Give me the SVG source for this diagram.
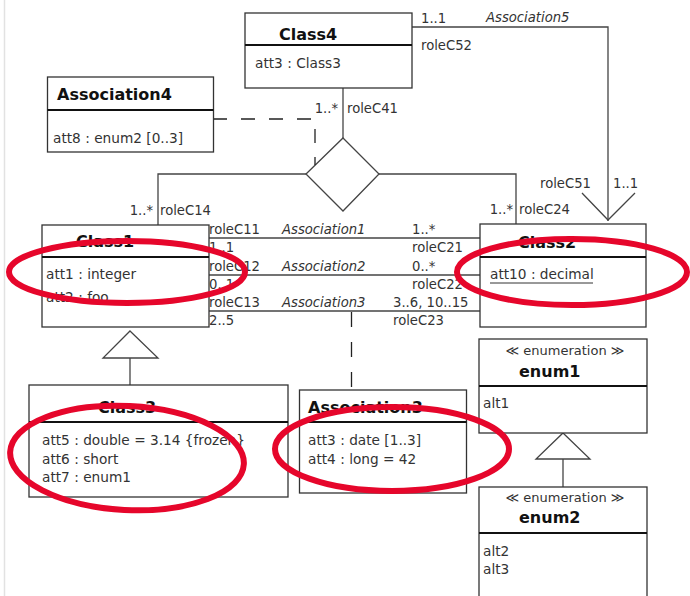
<svg xmlns="http://www.w3.org/2000/svg" width="690" height="596" viewBox="0 0 690 596">
  <style>
    .box { fill: #fff; stroke: #333; stroke-width: 1.3; }
    .div { stroke: #111; stroke-width: 2; }
    .ln { fill: none; stroke: #444; stroke-width: 1.3; }
    .dash { fill: none; stroke: #222; stroke-width: 1.3; stroke-dasharray: 14 14; }
    .hd { font-family: "DejaVu Sans", sans-serif; font-weight: bold; font-size: 16px; fill: #111; }
    .at { font-family: "DejaVu Sans", sans-serif; font-size: 13.7px; fill: #333; }
    .lb { font-family: "DejaVu Sans", sans-serif; font-size: 13.2px; fill: #333; }
    .it { font-style: italic; }
    .st { font-family: "DejaVu Sans", sans-serif; font-size: 13px; fill: #333; }
    .mark { fill: none; stroke: #e6062b; stroke-width: 6; }
  </style>

  <!-- page edge -->
  <line x1="4.5" y1="0" x2="4.5" y2="596" stroke="#e2e2e2" stroke-width="1.5"/>

  <g id="connectors">
    <!-- Association5: Class4 to Class2 with open arrow -->
    <polyline class="ln" points="412,27 608,27 608,221"/>
    <polyline class="ln" points="582,193 608,220 635,193"/>
    <!-- Association4: n-ary diamond -->
    <line class="ln" x1="343" y1="88" x2="343" y2="138"/>
    <polyline class="ln" points="306,174 158,174 158,226"/>
    <polyline class="ln" points="379,174 516,174 516,224"/>
    <polygon class="ln" points="343,138 379,174 343,211 306,174" fill="#fff"/>
    <polyline class="dash" points="213,119 315,119 315,165"/>
    <!-- Associations 1..3 between Class1 and Class2 -->
    <line class="ln" x1="209" y1="238" x2="480" y2="238"/>
    <line class="ln" x1="209" y1="275" x2="480" y2="275"/>
    <line class="ln" x1="209" y1="311" x2="480" y2="311"/>
    <line class="dash" x1="351.5" y1="312" x2="351.5" y2="390" style="stroke-dasharray: 15 15"/>
    <!-- generalisations -->
    <polygon class="ln" points="130,331 158,358 103,358" fill="#fff"/>
    <line class="ln" x1="130" y1="358" x2="130" y2="385"/>
    <polygon class="ln" points="563,433 590,459 536,459" fill="#fff"/>
    <line class="ln" x1="563" y1="459" x2="563" y2="487"/>

    <!-- role and multiplicity labels -->
    <text class="lb" x="421" y="23">1..1</text>
    <text class="lb it" x="486" y="22">Association5</text>
    <text class="lb" x="421" y="50">roleC52</text>
    <text class="lb" x="338" y="113" text-anchor="end">1..*</text>
    <text class="lb" x="347" y="113">roleC41</text>
    <text class="lb" x="153" y="215" text-anchor="end">1..*</text>
    <text class="lb" x="160" y="215">roleC14</text>
    <text class="lb" x="513" y="214" text-anchor="end">1..*</text>
    <text class="lb" x="519" y="214">roleC24</text>
    <text class="lb" x="540" y="188">roleC51</text>
    <text class="lb" x="613" y="188">1..1</text>

    <text class="lb" x="209" y="234">roleC11</text>
    <text class="lb it" x="282" y="234">Association1</text>
    <text class="lb" x="412" y="234">1..*</text>
    <text class="lb" x="209" y="252">1..1</text>
    <text class="lb" x="412" y="252">roleC21</text>
    <text class="lb" x="209" y="271">roleC12</text>
    <text class="lb it" x="282" y="271">Association2</text>
    <text class="lb" x="412" y="271">0..*</text>
    <text class="lb" x="209" y="289">0..1</text>
    <text class="lb" x="412" y="289">roleC22</text>
    <text class="lb" x="209" y="307">roleC13</text>
    <text class="lb it" x="282" y="307">Association3</text>
    <text class="lb" x="393" y="307">3..6, 10..15</text>
    <text class="lb" x="209" y="325">2..5</text>
    <text class="lb" x="393" y="325">roleC23</text>
  </g>

  <g id="Class4">
    <rect class="box" x="245" y="13" width="167" height="75"/>
    <line class="div" x1="245" y1="45" x2="412" y2="45"/>
    <text class="hd" x="279" y="40">Class4</text>
    <text class="at" x="255" y="68">att3 : Class3</text>
  </g>

  <g id="Association4">
    <rect class="box" x="47.5" y="77" width="166" height="75"/>
    <line class="div" x1="47.5" y1="110" x2="213.5" y2="110"/>
    <text class="hd" x="57" y="100">Association4</text>
    <text class="at" x="53" y="143">att8 : enum2 [0..3]</text>
  </g>

  <g id="Class1">
    <rect class="box" x="42" y="225" width="167" height="102"/>
    <line class="div" x1="42" y1="257" x2="209" y2="257"/>
    <text class="hd" x="76" y="247">Class1</text>
    <text class="at" x="46" y="279">att1 : integer</text>
    <text class="at" x="46" y="302">att2 : foo</text>
  </g>

  <g id="Class2">
    <rect class="box" x="480" y="224" width="166" height="103"/>
    <line class="div" x1="480" y1="257" x2="646" y2="257"/>
    <text class="hd" x="518" y="248">Class2</text>
    <text class="at" x="490" y="279">att10 : decimal</text>
    <line x1="490" y1="283" x2="593" y2="283" stroke="#333" stroke-width="1"/>
  </g>

  <g id="Class3">
    <rect class="box" x="29" y="385" width="259" height="112"/>
    <line class="div" x1="29" y1="422" x2="288" y2="422"/>
    <text class="hd" x="98" y="413">Class3</text>
    <text class="at" x="42" y="445">att5 : double = 3.14 {frozen}</text>
    <text class="at" x="42" y="464">att6 : short</text>
    <text class="at" x="42" y="482">att7 : enum1</text>
  </g>

  <g id="Association3">
    <rect class="box" x="299.5" y="390" width="167" height="103"/>
    <line class="div" x1="299.5" y1="422" x2="466.5" y2="422"/>
    <text class="hd" x="308" y="413">Association3</text>
    <text class="at" x="308" y="445">att3 : date [1..3]</text>
    <text class="at" x="308" y="464">att4 : long = 42</text>
  </g>

  <g id="enum1">
    <rect class="box" x="479" y="339" width="168" height="94"/>
    <line class="div" x1="479" y1="386" x2="647" y2="386"/>
    <text class="st" x="565" y="355" text-anchor="middle">≪ enumeration ≫</text>
    <text class="hd" x="519" y="377">enum1</text>
    <text class="at" x="483" y="408">alt1</text>
  </g>

  <g id="enum2">
    <rect class="box" x="479" y="487" width="168" height="120"/>
    <line class="div" x1="479" y1="533" x2="647" y2="533"/>
    <text class="st" x="565" y="502" text-anchor="middle">≪ enumeration ≫</text>
    <text class="hd" x="519" y="523">enum2</text>
    <text class="at" x="483" y="556">alt2</text>
    <text class="at" x="483" y="574">alt3</text>
  </g>

  <!-- hand-drawn highlight rings -->
  <g id="highlights">
    <ellipse class="mark" cx="127" cy="272" rx="118" ry="31"/>
    <ellipse class="mark" cx="572" cy="272" rx="115" ry="33"/>
    <ellipse class="mark" cx="127" cy="458" rx="117" ry="52" transform="rotate(3 127 458)"/>
    <ellipse class="mark" cx="392" cy="449" rx="117" ry="42"/>
  </g>
</svg>
